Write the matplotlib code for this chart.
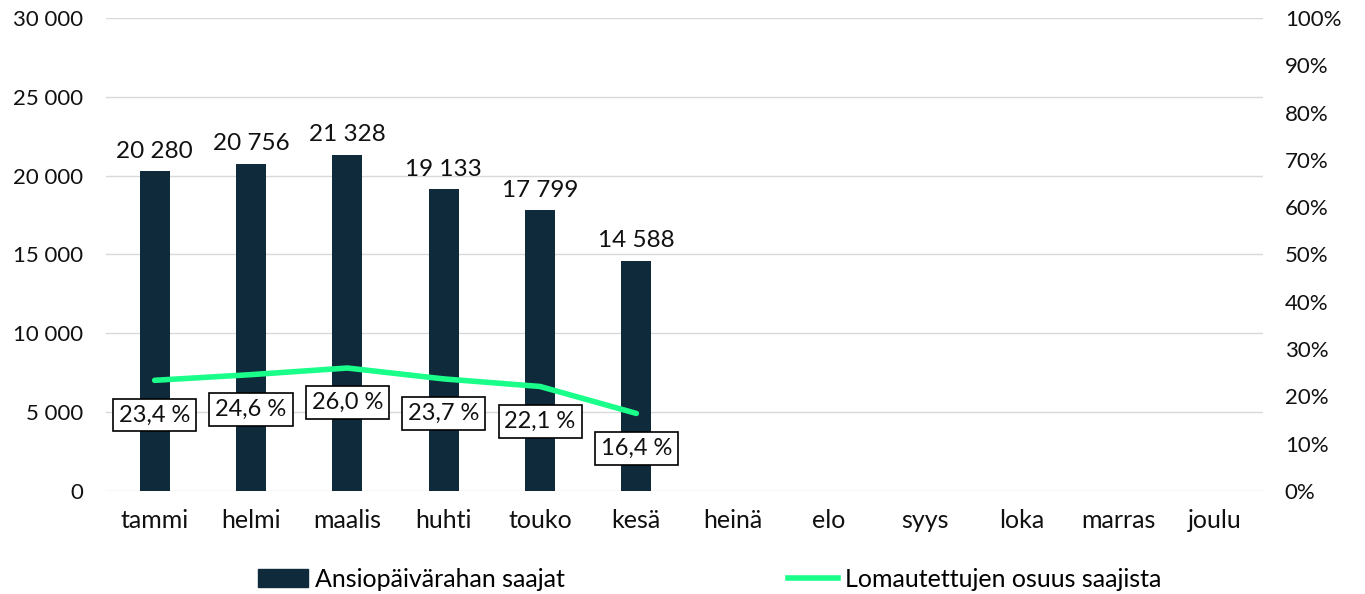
import matplotlib.pyplot as plt
from matplotlib.lines import Line2D
from matplotlib.patches import Patch

plt.rcParams['font.family'] = ['Lato', 'DejaVu Sans']

months = ['tammi', 'helmi', 'maalis', 'huhti', 'touko', 'kesä',
          'heinä', 'elo', 'syys', 'loka', 'marras', 'joulu']
saajat = [20280, 20756, 21328, 19133, 17799, 14588]
osuus = [23.4, 24.6, 26.0, 23.7, 22.1, 16.4]

bar_color = '#0e2a3b'
line_color = '#19ff8a'


def fmt_thousands(v):
    return f'{int(v):,}'.replace(',', ' ')


fig = plt.figure(figsize=(13.65, 5.94), dpi=100)
ax = fig.add_axes([0.078, 0.1734, 0.847, 0.7963])
ax2 = ax.twinx()

x = list(range(len(months)))
ax.bar(x[:len(saajat)], saajat, width=0.31, color=bar_color, zorder=2)
for i, v in enumerate(saajat):
    ax.annotate(fmt_thousands(v), (i, v), xytext=(0, 7), textcoords='offset points',
                ha='center', va='bottom', fontsize=17.5, color='#111111')

ax.set_xlim(-0.5, len(months) - 0.5)
ax.set_ylim(0, 30000)
ax.set_yticks(range(0, 30001, 5000))
ax.set_yticklabels([fmt_thousands(v) for v in range(0, 30001, 5000)])
ax.set_xticks(x)
ax.set_xticklabels(months)
ax.grid(axis='y', color='#d9d9d9', linewidth=1, zorder=0)
ax.set_axisbelow(True)

ax2.plot(x[:len(osuus)], osuus, color=line_color, linewidth=4, solid_capstyle='round', zorder=3)
for i, v in enumerate(osuus):
    ax2.annotate(f'{v:.1f} %'.replace('.', ','), (i, v), xytext=(0, -25), textcoords='offset points',
                 ha='center', va='center', fontsize=17, color='#111111',
                 bbox=dict(boxstyle='square,pad=0.25', fc='white', ec='black', lw=1.2))
ax2.set_ylim(0, 100)
ax2.set_yticks(range(0, 101, 10))
ax2.set_yticklabels([f'{v}%' for v in range(0, 101, 10)])

for a in (ax, ax2):
    for s in a.spines.values():
        s.set_visible(False)
    a.tick_params(length=0, labelsize=16, colors='#111111')
ax.tick_params(axis='x', pad=13, labelsize=18)
ax.tick_params(axis='y', pad=17)
ax2.tick_params(axis='y', pad=16)

handles = [Patch(color=bar_color), Line2D([], [], color=line_color, linewidth=4)]
fig.legend(handles, ['Ansiopäivärahan saajat', 'Lomautettujen osuus saajista'],
           loc='lower center', bbox_to_anchor=(0.52, -0.032), ncol=2, frameon=False,
           fontsize=18, columnspacing=8.9, handlelength=2, handletextpad=0.28)

fig.savefig('out.png', dpi=100)
